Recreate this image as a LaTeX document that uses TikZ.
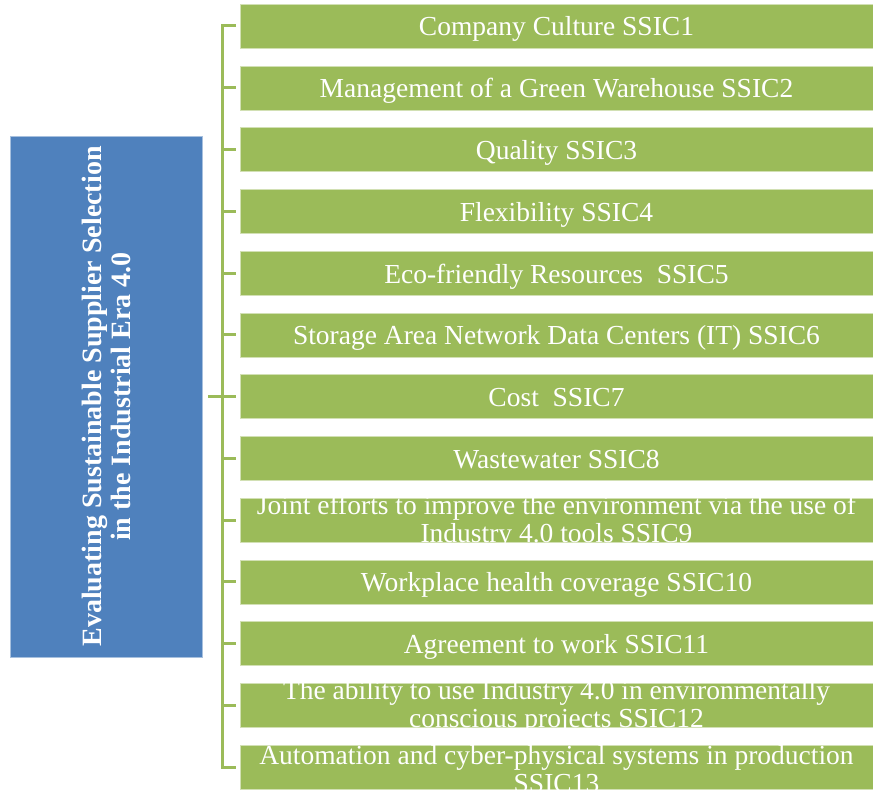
\documentclass[tikz,border=0pt]{standalone}
\usepackage{fontspec}
\setmainfont{Liberation Serif}
\usetikzlibrary{calc,positioning}
\definecolor{leafgreen}{HTML}{9BBB59}
\definecolor{rootblue}{HTML}{4F81BD}
\newdimen\hdim
\newdimen\wdim
\newdimen\odim
\hdim=44pt
\wdim=633pt
\odim=17.75pt
\tikzstyle{criterion}=[
  draw=leafgreen!45,
  fill=leafgreen,
  font={\fontsize{27.5}{28}\selectfont},
  text=white,
  inner sep=0pt,
  minimum height=\hdim,
  minimum width=\wdim,
  outer sep=0pt,
  rectangle,
  text height=21pt,
  text depth=1pt,
]
\tikzstyle{crittext}=[
  font={\fontsize{27.5}{28}\selectfont},
  text=white,
  inner sep=0pt,
  align=center,
  yshift=-2pt,
]
\tikzstyle{goal}=[
  draw=rootblue!50,
  fill=rootblue,
  inner sep=0pt,
  minimum height=521pt,
  minimum width=192pt,
  outer sep=0pt,
  rectangle,
]
\tikzstyle{goaltext}=[
  font={\fontsize{28}{29}\selectfont\bfseries},
  text=white,
  inner sep=0pt,
  align=center,
  rotate=90,
]
\tikzstyle{bracket}=[
  draw=leafgreen,
  line width=3pt,
]
\tikzset{
  node distance=\odim,
}
\begin{document}
\begin{tikzpicture}[x=1pt,y=1pt]
  \useasboundingbox (0,0) rectangle (873,-792);
  \node (c1) [criterion, anchor=north west] at (240,-4) {Company Culture SSIC1};
  \node (c2) [criterion, below=of c1] {Management of a Green Warehouse SSIC2};
  \node (c3) [criterion, below=of c2] {Quality SSIC3};
  \node (c4) [criterion, below=of c3] {Flexibility SSIC4};
  \node (c5) [criterion, below=of c4] {Eco-friendly Resources\ \ SSIC5};
  \node (c6) [criterion, below=of c5] {Storage Area Network Data Centers (IT) SSIC6};
  \node (c7) [criterion, below=of c6] {Cost\ \ SSIC7};
  \node (c8) [criterion, below=of c7] {Wastewater SSIC8};
  \node (c9) [criterion, below=of c8] {};
  \node (c9text) [crittext] at (c9) {Joint efforts to improve the environment via the use of\\Industry 4.0 tools SSIC9};
  \node (c10) [criterion, below=of c9] {Workplace health coverage SSIC10};
  \node (c11) [criterion, below=of c10] {Agreement to work SSIC11};
  \node (c12) [criterion, below=of c11] {};
  \node (c12text) [crittext] at (c12) {The ability to use Industry 4.0 in environmentally\\conscious projects SSIC12};
  \node (c13) [criterion, below=of c12] {};
  \node (c13text) [crittext] at (c13) {Automation and cyber-physical systems in production\\SSIC13};
  %%
  \node (goal) [goal] at (106,-396.5) {};
  \node (goaltext) [goaltext] at (goal) {Evaluating Sustainable Supplier Selection\\in the Industrial Era 4.0};
  %%
  \coordinate [left=18pt of c1.west] (spine);
  \draw [bracket, shorten <=4pt, shorten >=4pt] (c1.west) -- (spine)
  -- (spine|-c13) -- (c13.west);
  \draw [bracket, shorten >=4pt] (spine|-c2) -- (c2.west);
  \draw [bracket, shorten >=4pt] (spine|-c3) -- (c3.west);
  \draw [bracket, shorten >=4pt] (spine|-c4) -- (c4.west);
  \draw [bracket, shorten >=4pt] (spine|-c5) -- (c5.west);
  \draw [bracket, shorten >=4pt] (spine|-c6) -- (c6.west);
  \draw [bracket, shorten >=4pt] (spine|-c7) -- (c7.west);
  \draw [bracket, shorten >=4pt] (spine|-c8) -- (c8.west);
  \draw [bracket, shorten >=4pt] (spine|-c9) -- (c9.west);
  \draw [bracket, shorten >=4pt] (spine|-c10) -- (c10.west);
  \draw [bracket, shorten >=4pt] (spine|-c11) -- (c11.west);
  \draw [bracket, shorten >=4pt] (spine|-c12) -- (c12.west);
  \draw [bracket, shorten <=6pt] (goal.east) -- (goal.east-|spine);
\end{tikzpicture}
\end{document}
